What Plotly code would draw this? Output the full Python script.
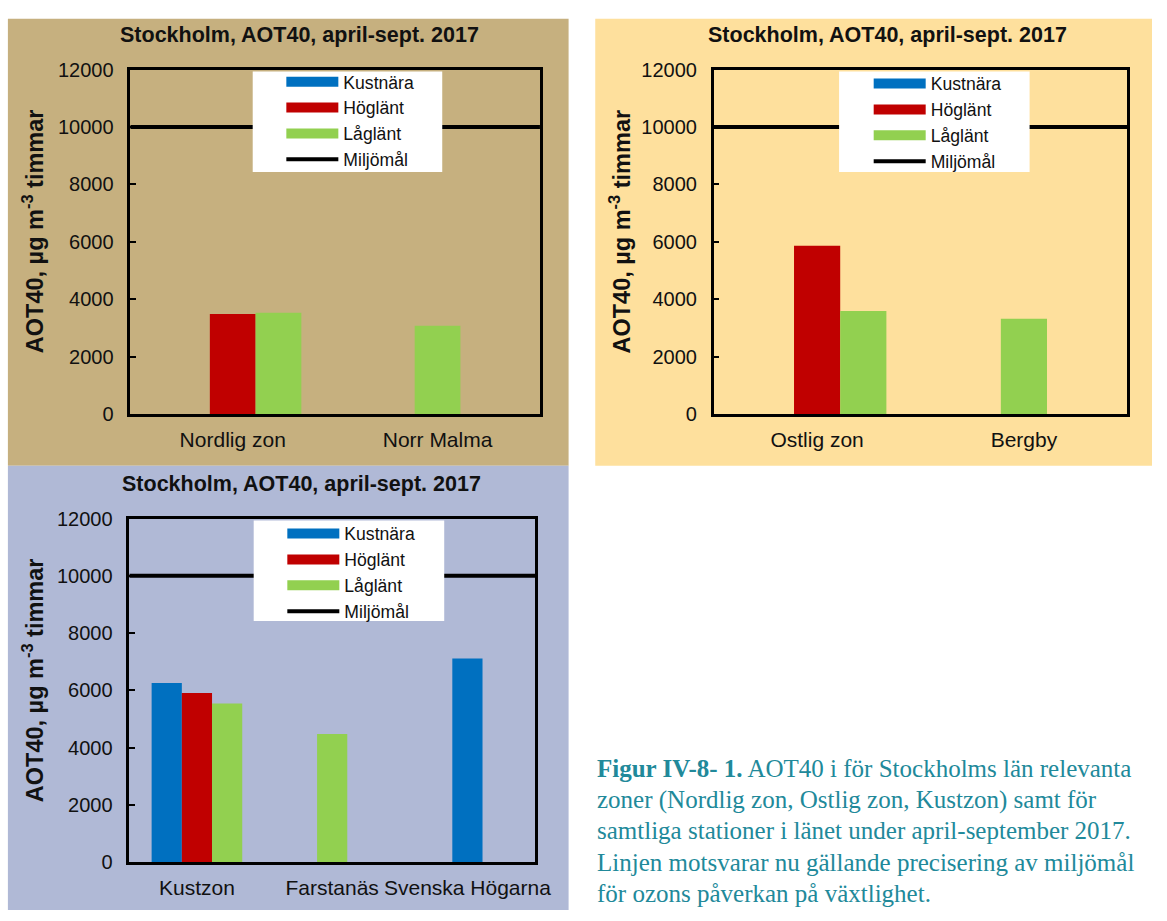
import plotly.graph_objects as go

W, H = 1167, 921

# ---- data -------------------------------------------------------------
chart_title = "Stockholm, AOT40, april-sept. 2017"
y_title = "AOT40, µg m<sup>-3</sup> timmar"
series_names = ["Kustnära", "Höglänt", "Låglänt"]
series_colors = ["#0070C0", "#C00000", "#92D050"]
target_name = "Miljömål"
target_value = 10000
y_ticks = [0, 2000, 4000, 6000, 8000, 10000, 12000]

nord_categories = ["Nordlig zon", "Norr Malma"]
nord_kustnara = [None, None]
nord_hoglant = [3490, None]
nord_laglant = [3530, 3080]

ost_categories = ["Ostlig zon", "Bergby"]
ost_kustnara = [None, None]
ost_hoglant = [5860, None]
ost_laglant = [3590, 3320]

kust_categories = ["Kustzon", "Farstanäs", "Svenska Högarna"]
kust_kustnara = [6260, None, 7110]
kust_hoglant = [5910, None, None]
kust_laglant = [5540, 4480, None]

caption_lines = [
    "<b>Figur IV-8- 1.</b> AOT40 i för Stockholms län relevanta",
    "zoner (Nordlig zon, Ostlig zon, Kustzon) samt för",
    "samtliga stationer i länet under april-september 2017.",
    "Linjen motsvarar nu gällande precisering av miljömål",
    "för ozons påverkan på växtlighet.",
]

# ---- layout helpers ---------------------------------------------------
SANS = "Liberation Sans, Arial, sans-serif"
SERIF = "Liberation Serif, Times New Roman, serif"
INK = "#111111"


def px(x):
    return x / W


def py(y):
    return 1 - y / H


panels = [
    dict(cats=nord_categories, vals=[nord_kustnara, nord_hoglant, nord_laglant],
         bg=(8, 8, 576, 466), bgcolor="#C6B07F", box=(132, 60, 547, 413),
         title=(303, 25), ytitle=(33, 226), legend=(285, 54),
         legend_box=(256, 62, 448, 165)),
    dict(cats=ost_categories, vals=[ost_kustnara, ost_hoglant, ost_laglant],
         bg=(603, 8, 1167, 466), bgcolor="#FEE09D", box=(723, 60, 1142, 413),
         title=(899, 25), ytitle=(628, 226), legend=(880, 56),
         legend_box=(850, 62, 1043, 165)),
    dict(cats=kust_categories, vals=[kust_kustnara, kust_hoglant, kust_laglant],
         bg=(8, 466, 576, 921), bgcolor="#B0B9D6", box=(131, 520, 542, 872),
         title=(305, 485), ytitle=(33, 686), legend=(286, 517),
         legend_box=(257, 522, 450, 625)),
]

BAR_W = 0.67 / 3

fig = go.Figure()
layout = dict(
    width=W, height=H,
    margin=dict(l=0, r=0, t=0, b=0),
    paper_bgcolor="white", plot_bgcolor="white",
    barmode="overlay",
    font=dict(family=SANS, color=INK),
    shapes=[], annotations=[],
)

for k, p in enumerate(panels, start=1):
    sfx = "" if k == 1 else str(k)
    xa, ya = "x" + sfx, "y" + sfx
    leg = "legend" + sfx
    ov = "x" + str(k + 3)
    x0, y0, x1, y1 = p["box"]

    # panel background
    bx0, by0, bx1, by1 = p["bg"]
    layout["shapes"].append(dict(
        type="rect", xref="paper", yref="paper", layer="below",
        x0=px(bx0), x1=px(bx1), y0=py(by1), y1=py(by0),
        fillcolor=p["bgcolor"], line=dict(width=0)))

    # white legend panel sitting over the target line
    lb0, lt0, lb1, lt1 = p["legend_box"]
    layout["shapes"].append(dict(
        type="rect", xref="paper", yref="paper", layer="above",
        x0=px(lb0), x1=px(lb1), y0=py(lt1), y1=py(lt0),
        fillcolor="white", line=dict(width=0)))

    # bars: zones get grouped slots, single stations are centred
    n_cat = len(p["cats"])
    present = [sum(v[j] is not None for v in p["vals"]) for j in range(n_cat)]
    for i, (name, color, vals) in enumerate(zip(series_names, series_colors, p["vals"])):
        offsets = [(i - 1.5) * BAR_W if present[j] > 1 else -0.5 * BAR_W
                   for j in range(n_cat)]
        fig.add_trace(go.Bar(
            x=p["cats"], y=vals, width=BAR_W, offset=offsets,
            marker=dict(color=color, line=dict(width=0)),
            name=name, showlegend=False, xaxis=xa, yaxis=ya))
        # legend swatch
        fig.add_trace(go.Scatter(
            x=[None], y=[None], mode="lines", name=name,
            line=dict(color=color, width=10),
            legend=leg, xaxis=xa, yaxis=ya))

    # environmental target line across the full plot width
    fig.add_trace(go.Scatter(
        x=[0, 1], y=[target_value, target_value], mode="lines",
        line=dict(color="black", width=4), name=target_name,
        legend=leg, xaxis=ov, yaxis=ya, hoverinfo="skip"))

    layout["xaxis" + sfx] = dict(
        domain=[px(x0), px(x1)], anchor=ya, type="category",
        categoryarray=p["cats"], range=[-0.5, n_cat - 0.5],
        showline=True, linecolor="black", linewidth=2.5, mirror=True,
        ticks="", showgrid=False, zeroline=False,
        tickfont=dict(size=21, color=INK), ticklabelstandoff=5)
    layout["yaxis" + sfx] = dict(
        domain=[py(y1), py(y0)], anchor=xa, range=[0, 12000],
        tickvals=y_ticks, tickformat="d", ticks="inside", ticklen=6,
        tickwidth=1.5, tickcolor="black", showline=True, linecolor="black",
        linewidth=2.5, mirror=True, showgrid=False, zeroline=False,
        tickfont=dict(size=20, color=INK), ticklabelstandoff=10)
    layout["xaxis" + str(k + 3)] = dict(
        overlaying=xa, anchor=ya, range=[0, 1], visible=False)

    lx, ly = p["legend"]
    layout[leg] = dict(
        x=px(lx), y=py(ly), xanchor="left", yanchor="top",
        bgcolor="rgba(0,0,0,0)", borderwidth=0, itemwidth=52,
        font=dict(size=17.6, family=SANS, color=INK),
        tracegroupgap=0, traceorder="normal")

    tx, ty = p["title"]
    layout["annotations"].append(dict(
        text="<b>" + chart_title + "</b>", xref="paper", yref="paper",
        x=px(tx), y=py(ty), xanchor="center", yanchor="middle",
        showarrow=False, font=dict(size=21.5, family=SANS, color=INK)))
    yx, yy = p["ytitle"]
    layout["annotations"].append(dict(
        text="<b>" + y_title + "</b>", xref="paper", yref="paper",
        x=px(yx), y=py(yy), xanchor="center", yanchor="middle",
        textangle=-90, showarrow=False,
        font=dict(size=23.5, family=SANS, color=INK)))

# caption text block
CAP_X, CAP_Y0, CAP_STEP = 603, 776, 32
for i, line in enumerate(caption_lines):
    layout["annotations"].append(dict(
        text=line, xref="paper", yref="paper",
        x=px(CAP_X), y=py(CAP_Y0 + i * CAP_STEP),
        xanchor="left", yanchor="middle", showarrow=False,
        font=dict(size=25, family=SERIF, color="#21899A")))

fig.update_layout(**layout)
fig.write_html("out.html")
